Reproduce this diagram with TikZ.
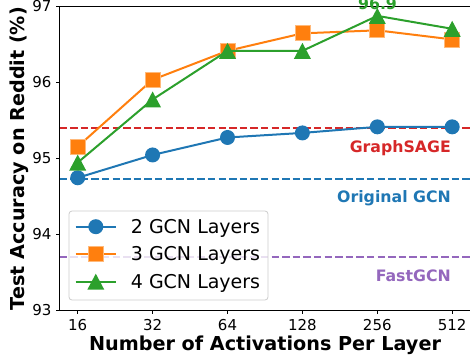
\documentclass[tikz,border=0pt]{standalone}
\usepackage{fontspec}
\setmainfont{DejaVu Sans}
\definecolor{tabblue}{HTML}{1F77B4}
\definecolor{taborange}{HTML}{FF7F0E}
\definecolor{tabgreen}{HTML}{2CA02C}
\definecolor{tabred}{HTML}{D62728}
\definecolor{tabpurple}{HTML}{9467BD}
\begin{document}
\begin{tikzpicture}[x=1pt,y=1pt]
 \tikzset{ser/.style = {line width=2pt, line join=round}}
 \tikzset{hline/.style = {line width=2pt, dash pattern=on 7.4pt off 3.2pt}}
 \tikzset{dot/.style = {circle, fill=tabblue, minimum size=15pt, inner sep=0pt}}
 \tikzset{sq/.style = {rectangle, fill=taborange, draw=taborange!55, line width=0.8pt, minimum size=15pt, inner sep=0pt}}
 \tikzset{ticklab/.style = {font=\fontsize{15}{18}\selectfont, inner sep=0pt}}
 \tikzset{note/.style = {font=\fontsize{15.75}{18}\selectfont\bfseries, inner sep=0pt, anchor=base east}}
 \tikzset{axlab/.style = {font=\fontsize{19.2}{22}\selectfont\bfseries, inner sep=0pt, anchor=base}}
 \tikzset{legtext/.style = {font=\fontsize{19}{22}\selectfont, inner sep=0pt, anchor=base west}}
 \def\tri#1{\fill[tabgreen] (#1) ++(0,8pt) -- ++(-8.5pt,-16pt) -- ++(17pt,0) -- cycle;}
 \def\xl{-0.243}
 \def\xr{5.25}

 \useasboundingbox (0,0) rectangle (470,360);
 \clip (0,0) rectangle (470,360);

 \begin{scope}[shift={(77.7,-7018)}, x=74.9pt, y=76pt]
  % baselines
  \draw[hline, tabred] (\xl,95.4) -- (\xr,95.4);
  \draw[hline, tabblue] (\xl,94.73) -- (\xr,94.73);
  \draw[hline, tabpurple] (\xl,93.7) -- (\xr,93.7);

  % 2 layers
  \foreach \v [count=\i from 0] in {94.74,95.04,95.27,95.33,95.41,95.41}
   \coordinate (b\i) at (\i,\v);
  \draw[ser, tabblue] (b0) -- (b1) -- (b2) -- (b3) -- (b4) -- (b5);
  \foreach \i in {0,...,5} \node[dot] (bm\i) at (b\i) {};

  % 3 layers
  \foreach \v [count=\i from 0] in {95.15,96.03,96.41,96.64,96.68,96.56}
   \coordinate (o\i) at (\i,\v);
  \draw[ser, taborange] (o0) -- (o1) -- (o2) -- (o3) -- (o4) -- (o5);
  \foreach \i in {0,...,5} \node[sq] (om\i) at (o\i) {};

  % 4 layers
  \foreach \v [count=\i from 0] in {94.94,95.77,96.41,96.41,96.87,96.70}
   \coordinate (g\i) at (\i,\v);
  \draw[ser, tabgreen] (g0) -- (g1) -- (g2) -- (g3) -- (g4) -- (g5);
  \foreach \i in {0,...,5} {\tri{g\i}}

  % axes
  \draw[line width=0.8pt] (\xl,97) -- (\xl,93) -- (\xr,93) -- (\xr,97) -- cycle;
  \foreach \t [count=\i from 0] in {16,32,64,128,256,512} {
   \draw[line width=0.8pt] (\i,93) -- ++(0,-3.5pt);
   \node[ticklab, anchor=north, yshift=-8.8pt] (xt\i) at (\i,93) {\t};
  }
  \foreach \v in {93,...,97} {
   \draw[line width=0.8pt] (\xl,\v) -- ++(-3.5pt,0);
   \node[ticklab, anchor=east, xshift=-7.8pt] (yt\v) at (\xl,\v) {\v};
  }
 \end{scope}

 \node[note, text=tabred] (sage) at (451,208) {GraphSAGE};
 \node[note, text=tabblue] (orig) at (451,158) {Original GCN};
 \node[note, text=tabpurple] (fast) at (451,79) {FastGCN};
 \node[note, text=tabgreen, anchor=base] (best) at (377.5,350.7) {96.9};

 \node[axlab] (xlab) at (265,9.3) {Number of Activations Per Layer};
 \node[axlab, rotate=90] (ylab) at (24,201.4) {Test Accuracy on Reddit (\%)};

 % legend
 \draw[draw=black!20, fill=white, fill opacity=0.8, rounded corners=3pt, line width=0.8pt] (69,60) rectangle (268,149);
 \draw[ser, tabblue] (75.5,133.3) -- (116,133.3);
 \node[dot] (l1) at (95.8,133.3) {};
 \node[legtext] (l1t) at (130.7,126.8) {2 GCN Layers};
 \draw[ser, taborange] (75.5,105.7) -- (116,105.7);
 \node[sq] (l2) at (95.8,105.7) {};
 \node[legtext] (l2t) at (130.7,99.2) {3 GCN Layers};
 \draw[ser, tabgreen] (75.5,78.3) -- (116,78.3);
 \coordinate (l3) at (95.8,78.3);
 \tri{l3}
 \node[legtext] (l3t) at (130.7,71.8) {4 GCN Layers};
\end{tikzpicture}
\end{document}
